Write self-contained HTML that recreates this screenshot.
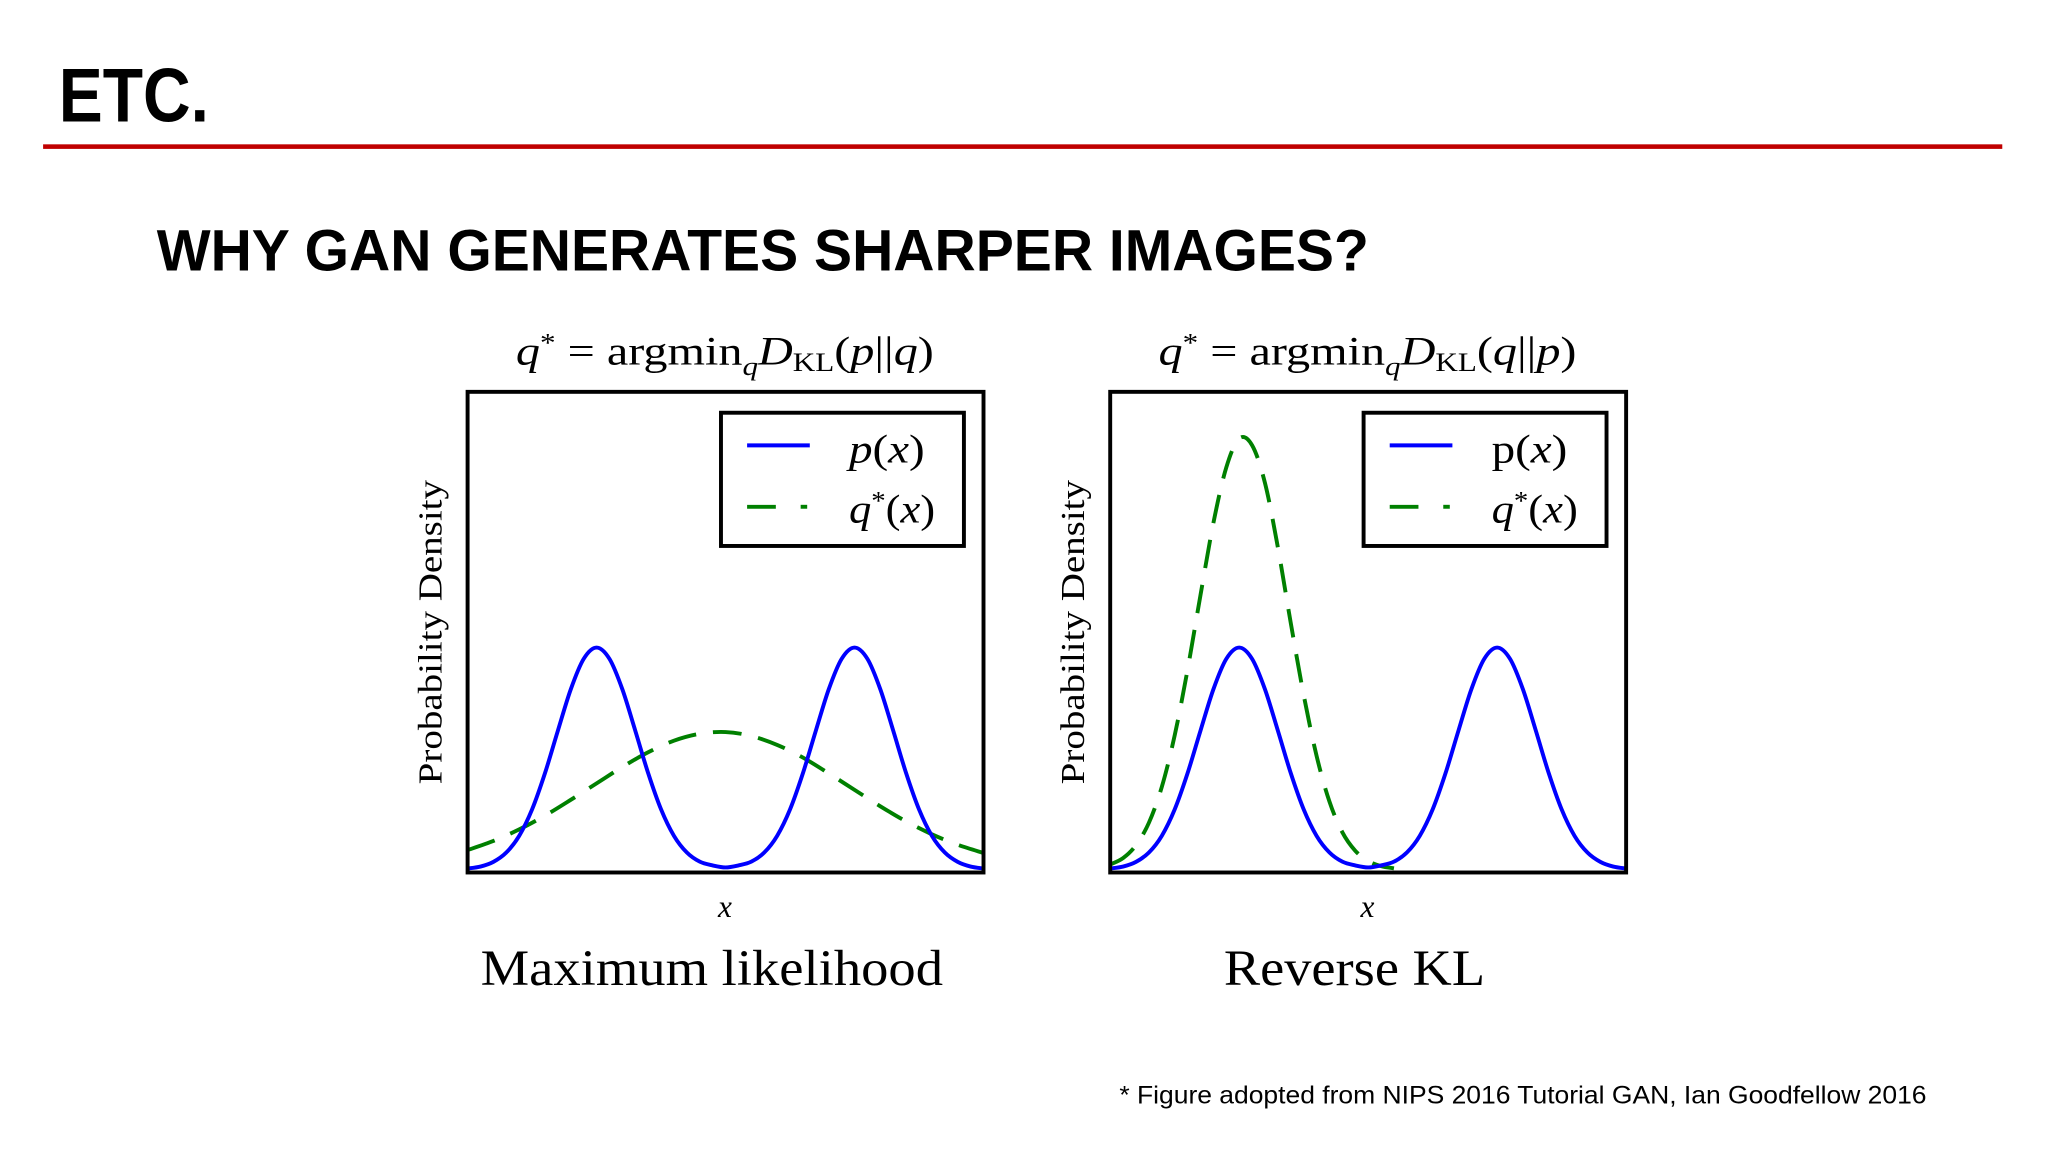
<!DOCTYPE html>
<html><head><meta charset="utf-8">
<style>
html,body{margin:0;padding:0;background:#fff;width:2048px;height:1152px;overflow:hidden}
svg{display:block}
.serif{font-family:"Liberation Serif","DejaVu Serif",serif}
</style></head>
<body>
<svg id="slide" width="2048" height="1152" viewBox="0 0 1568 882" xmlns="http://www.w3.org/2000/svg">
  <text x="45" y="93" font-family="Liberation Sans, DejaVu Sans, sans-serif" font-weight="bold" font-size="58" textLength="115" lengthAdjust="spacingAndGlyphs">ETC.</text>
  <rect x="33" y="110.5" width="1500" height="3.5" fill="#c00000"/>
  <text x="120" y="207" font-family="Liberation Sans, DejaVu Sans, sans-serif" font-weight="bold" font-size="45" textLength="928" lengthAdjust="spacingAndGlyphs">WHY GAN GENERATES SHARPER IMAGES?</text>

  <g id="left"></g>
  <g id="right"></g>

  <text x="857" y="845" font-family="Liberation Sans, DejaVu Sans, sans-serif" font-size="19" textLength="618" lengthAdjust="spacingAndGlyphs">* Figure adopted from NIPS 2016 Tutorial GAN, Ian Goodfellow 2016</text>
</svg>
<script>
// data (normalized density; x from 0 to 1)
const pX = [0,0.025,0.05,0.075,0.1,0.125,0.15,0.175,0.2,0.225,0.25,0.275,0.3,0.325,0.35,0.375,0.4,0.425,0.45,0.475,0.5,0.525,0.55,0.575,0.6,0.625,0.65,0.675,0.7,0.725,0.75,0.775,0.8,0.825,0.85,0.875,0.9,0.925,0.95,0.975,1];
const pY = [0.006,0.015,0.036,0.078,0.153,0.272,0.435,0.626,0.812,0.949,1,0.949,0.812,0.626,0.435,0.272,0.153,0.078,0.037,0.02,0.011,0.02,0.037,0.078,0.153,0.272,0.435,0.626,0.812,0.949,1,0.949,0.812,0.626,0.435,0.272,0.153,0.078,0.036,0.015,0.006];
const qMLX = [0,0.05,0.1,0.15,0.2,0.25,0.3,0.35,0.4,0.45,0.5,0.55,0.6,0.65,0.7,0.75,0.8,0.85,0.9,0.95,1];
const qMLY = [0.089,0.13,0.182,0.244,0.315,0.389,0.463,0.529,0.581,0.612,0.62,0.602,0.562,0.505,0.434,0.36,0.286,0.218,0.16,0.113,0.076];
const qRKX = [0,0.025,0.05,0.075,0.1,0.125,0.15,0.175,0.2,0.225,0.25,0.275,0.3,0.325,0.35,0.375,0.4,0.425,0.45,0.475,0.5,0.525,0.55];
const qRKY = [0.024,0.053,0.111,0.212,0.373,0.605,0.901,1.236,1.56,1.81,1.94,1.91,1.74,1.45,1.11,0.787,0.513,0.307,0.169,0.086,0.04,0.017,0.007];

const NS = "http://www.w3.org/2000/svg";
function mk(tag, attrs, parent, text) {
  const e = document.createElementNS(NS, tag);
  for (const k in attrs) e.setAttribute(k, attrs[k]);
  if (text !== undefined) e.textContent = text;
  parent.appendChild(e);
  return e;
}
function smoothPath(pts) {
  let d = "M" + pts[0][0].toFixed(2) + "," + pts[0][1].toFixed(2);
  for (let i = 0; i < pts.length - 1; i++) {
    const p0 = pts[Math.max(0, i - 1)], p1 = pts[i], p2 = pts[i + 1], p3 = pts[Math.min(pts.length - 1, i + 2)];
    const c1x = p1[0] + (p2[0] - p0[0]) / 6, c1y = p1[1] + (p2[1] - p0[1]) / 6;
    const c2x = p2[0] - (p3[0] - p1[0]) / 6, c2y = p2[1] - (p3[1] - p1[1]) / 6;
    d += " C" + c1x.toFixed(2) + "," + c1y.toFixed(2) + " " + c2x.toFixed(2) + "," + c2y.toFixed(2) + " " + p2[0].toFixed(2) + "," + p2[1].toFixed(2);
  }
  return d;
}

function drawChart(g, left, qX, qY, titleArgs, pLabelItalic, caption, capW) {
  const L = left, R = left + 395, T = 300, B = 668;
  const y0 = 666, yMax = 2.15;
  const sx = v => L + v * (R - L);
  const sy = v => y0 - v / yMax * (y0 - T);

  const t = mk("text", {x: L + 37, y: 279, "font-size": "31", class: "serif", textLength: "320", lengthAdjust: "spacingAndGlyphs"}, g);
  
  
  mk("tspan", {"font-style": "italic"}, t, "q");
  mk("tspan", {dy: "-10", "font-size": "20"}, t, "*");
  mk("tspan", {dy: "10"}, t, " = argmin");
  mk("tspan", {dy: "8", "font-size": "20", "font-style": "italic"}, t, "q");
  mk("tspan", {dy: "-8", "font-style": "italic"}, t, "D");
  mk("tspan", {dy: "5", "font-size": "20"}, t, "KL");
  mk("tspan", {dy: "-5"}, t, "(");
  mk("tspan", {"font-style": "italic"}, t, titleArgs[0]);
  mk("tspan", {}, t, "||");
  mk("tspan", {"font-style": "italic"}, t, titleArgs[1]);
  mk("tspan", {}, t, ")");

  const cid = "clip" + left;
  const cp = mk("clipPath", {id: cid}, g);
  mk("rect", {x: L, y: T, width: R - L, height: B - T}, cp);

  const qp = mk("path", {d: smoothPath(qX.map((x, i) => [sx(x), sy(qY[i])])), fill: "none", stroke: "#008000", "stroke-width": "3", "stroke-dasharray": "22,13", "clip-path": "url(#" + cid + ")"}, g);
  
  
  const pp = mk("path", {d: smoothPath(pX.map((x, i) => [sx(x), sy(pY[i])])), fill: "none", stroke: "#0000ff", "stroke-width": "3", "clip-path": "url(#" + cid + ")"}, g);
  
  

  const fr = mk("rect", {x: L, y: T, width: R - L, height: B - T, fill: "none", stroke: "#000", "stroke-width": "3"}, g);
  
  

  const lg = mk("g", {}, g);
  
  
  mk("rect", {x: L + 194, y: 316, width: 186, height: 102, fill: "#fff", stroke: "#000", "stroke-width": "3"}, lg);
  mk("line", {x1: L + 214, y1: 341, x2: L + 262, y2: 341, stroke: "#0000ff", "stroke-width": "3"}, lg);
  mk("line", {x1: L + 214, y1: 388, x2: L + 236, y2: 388, stroke: "#008000", "stroke-width": "3"}, lg);
  mk("line", {x1: L + 255, y1: 388, x2: L + 260, y2: 388, stroke: "#008000", "stroke-width": "3"}, lg);
  const l1 = mk("text", {x: L + 292, y: 354, "font-size": "31", class: "serif", textLength: "58", lengthAdjust: "spacingAndGlyphs"}, lg);
  
  
  mk("tspan", pLabelItalic ? {"font-style": "italic"} : {}, l1, "p");
  mk("tspan", {}, l1, "(");
  mk("tspan", {"font-style": "italic"}, l1, "x");
  mk("tspan", {}, l1, ")");
  const l2 = mk("text", {x: L + 292, y: 400, "font-size": "31", class: "serif", textLength: "66", lengthAdjust: "spacingAndGlyphs"}, lg);
  
  
  mk("tspan", {"font-style": "italic"}, l2, "q");
  mk("tspan", {dy: "-10", "font-size": "20"}, l2, "*");
  mk("tspan", {dy: "10"}, l2, "(");
  mk("tspan", {"font-style": "italic"}, l2, "x");
  mk("tspan", {}, l2, ")");

  const yl = mk("text", {x: 0, y: 0, transform: "translate(" + (L - 20) + ",484) rotate(-90)", "text-anchor": "middle", "font-size": "26", class: "serif", textLength: "233", lengthAdjust: "spacingAndGlyphs"}, g, "Probability Density");
  
  
  const xl = mk("text", {x: L + 197, y: 702, "text-anchor": "middle", "font-size": "24", "font-style": "italic", class: "serif"}, g, "x");
  
  
  const cap = mk("text", {x: L + 187, y: 754, "text-anchor": "middle", "font-size": "39", class: "serif", textLength: capW, lengthAdjust: "spacingAndGlyphs"}, g, caption);
  
  
}

drawChart(document.getElementById("left"), 358, qMLX, qMLY, ["p", "q"], true, "Maximum likelihood", "354");
drawChart(document.getElementById("right"), 850, qRKX, qRKY, ["q", "p"], false, "Reverse KL", "200");
</script>
</body></html>
